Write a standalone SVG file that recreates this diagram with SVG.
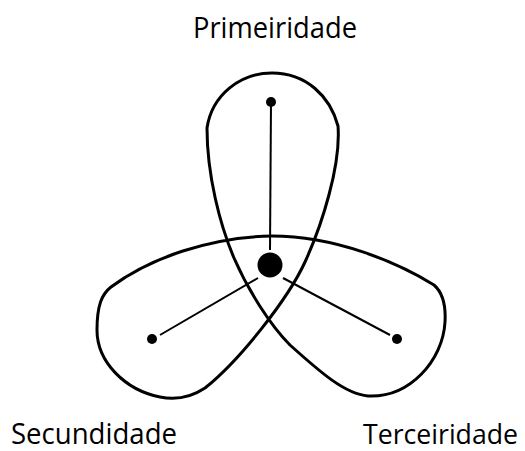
<svg xmlns="http://www.w3.org/2000/svg" width="525" height="451" viewBox="0 0 525 451">
<style>
.lbl{font-family:"Open Sans","Liberation Sans",sans-serif;font-size:29px;fill:#000}
.outline{fill:none;stroke:#000;stroke-width:3;stroke-linejoin:round}
.spoke{stroke:#000;stroke-width:2;fill:none}
.dot{fill:#000}
</style>
<rect width="525" height="451" fill="#fff"/>
<g id="connectors">
<path id="trefoil" class="outline" d="M272,73 C306,73 330,96 338,126 C341,165 322,225 305,262 C288,299 240,360 205,388 C190,398 175,400 160,397 C125,390 97,362 97,330 C97,305 102,294 111,287 C150,258 210,237 272,236 C335,236 397,262 434,285 C442,292 446,305 445,322 C443,360 410,398 368,396 C345,394 320,372 290,345 C270,325 248,290 234,258 C220,225 207,175 207,128 C212,95 240,73 272,73 Z"/>
<line class="spoke" x1="271" y1="102" x2="270" y2="250"/>
<line class="spoke" x1="160" y1="335" x2="258" y2="278"/>
<line class="spoke" x1="283" y1="278" x2="390" y2="335"/>
</g>
<g id="center"><circle class="dot" cx="270" cy="265" r="12.5"/></g>
<g id="primeiridade">
<circle class="dot" cx="271" cy="102" r="5"/>
<text class="lbl" x="193" y="38" textLength="164" lengthAdjust="spacingAndGlyphs">Primeiridade</text>
</g>
<g id="secundidade">
<circle class="dot" cx="152" cy="339" r="5"/>
<text class="lbl" x="11" y="444" textLength="166" lengthAdjust="spacingAndGlyphs">Secundidade</text>
</g>
<g id="terceiridade">
<circle class="dot" cx="397" cy="339" r="5"/>
<text class="lbl" x="363" y="444" font-size="27" style="font-size:27px" textLength="155" lengthAdjust="spacingAndGlyphs">Terceiridade</text>
</g>
</svg>
